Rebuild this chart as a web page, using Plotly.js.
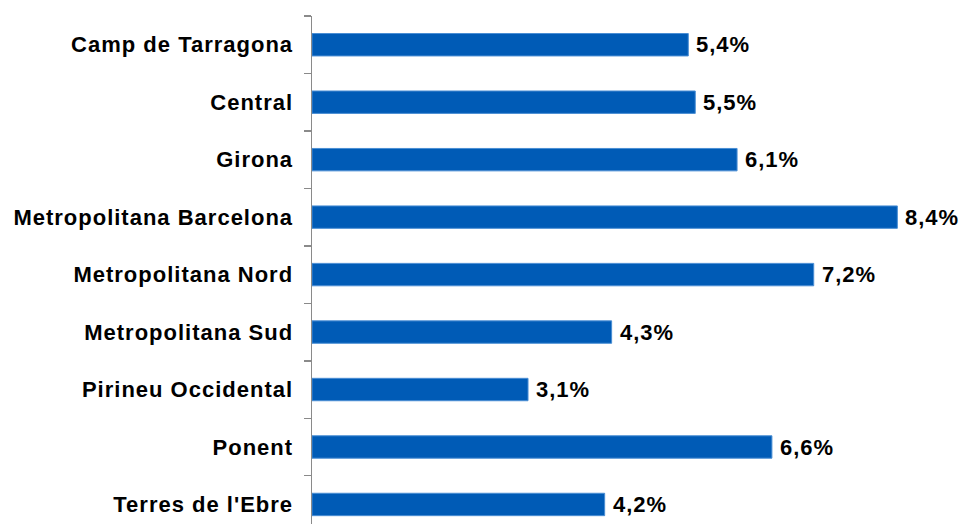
<!DOCTYPE html>
<html>
<head>
<meta charset="utf-8">
<script src="https://cdn.plot.ly/plotly-3.0.1.min.js"></script>
<style>
html,body{margin:0;padding:0;background:#fff;}
#chart{width:965px;height:524px;}
#chart .ytick text, #chart .annotation-text{letter-spacing:1px;}
</style>
</head>
<body>
<div id="chart"></div>
<script>
const categories = ["Camp de Tarragona", "Central", "Girona", "Metropolitana Barcelona", "Metropolitana Nord", "Metropolitana Sud", "Pirineu Occidental", "Ponent", "Terres de l'Ebre"];
const values = [5.4, 5.5, 6.1, 8.4, 7.2, 4.3, 3.1, 6.6, 4.2];
const valueLabels = values.map(v => v.toFixed(1).replace('.', ',') + '%');

const FONT = "Liberation Sans, Arial, sans-serif";

const trace = {
  type: 'bar',
  orientation: 'h',
  y: categories,
  x: values,
  width: 0.39,
  marker: {color: '#005BB6', line: {color: '#4A8ED4', width: 1}},
  hoverinfo: 'none'
};

const annotations = values.map((v, i) => ({
  x: v, y: categories[i], xref: 'x', yref: 'y',
  text: valueLabels[i], showarrow: false,
  xanchor: 'left', yanchor: 'middle', xshift: 8,
  font: {family: FONT, size: 22, color: '#000', weight: 700}
}));

const layout = {
  width: 965, height: 524,
  margin: {l: 312, r: 20, t: 16, b: 0},
  paper_bgcolor: '#fff', plot_bgcolor: '#fff',
  showlegend: false,
  xaxis: {range: [0, 9.084], visible: false, showgrid: false, zeroline: false, fixedrange: true},
  yaxis: {
    type: 'category', categoryorder: 'array', categoryarray: categories,
    range: [8.34, -0.5],
    showline: true, linecolor: '#8A8A8A', linewidth: 1.5,
    ticks: 'outside', tickson: 'boundaries', ticklen: 7, tickcolor: '#8A8A8A', tickwidth: 1.5,
    ticklabelstandoff: 13,
    showgrid: false, zeroline: false,
    tickfont: {family: FONT, size: 22, color: '#000', weight: 700}
  },
  annotations: annotations
};

Plotly.newPlot('chart', [trace], layout, {displayModeBar: false, staticPlot: true});
</script>
</body>
</html>
